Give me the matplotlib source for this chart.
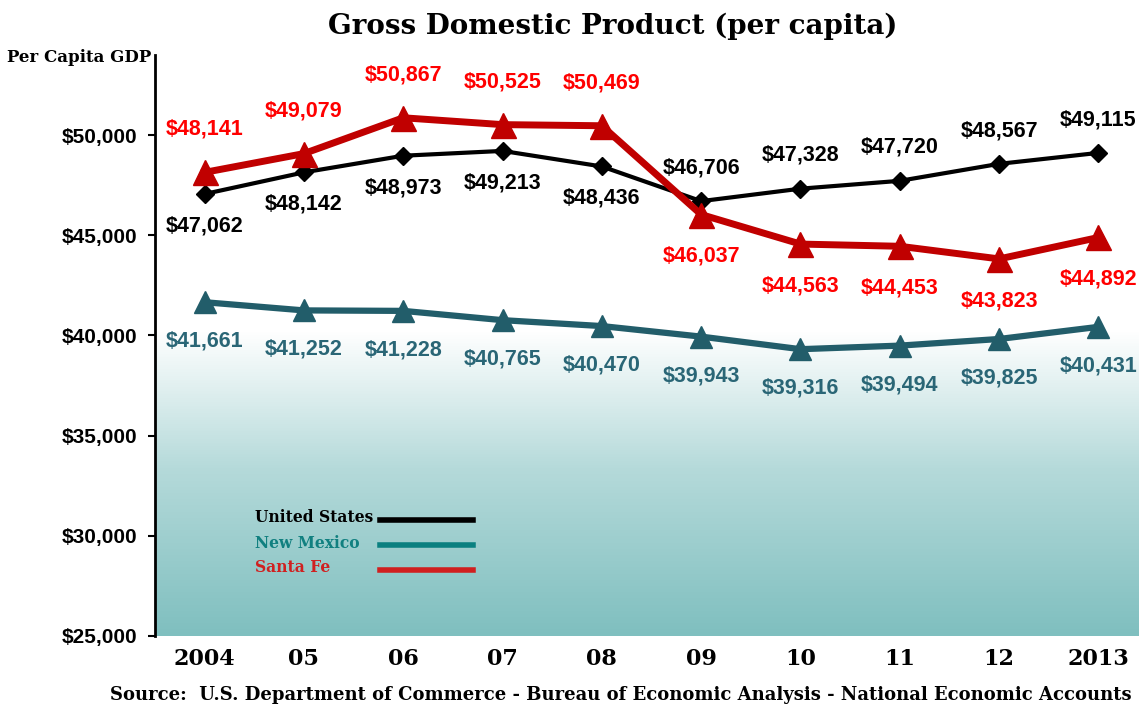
import matplotlib.pyplot as plt
import numpy as np
from matplotlib.colors import LinearSegmentedColormap
from matplotlib.lines import Line2D

years = ["2004", "05", "06", "07", "08", "09", "10", "11", "12", "2013"]
us_gdp = [47062, 48142, 48973, 49213, 48436, 46706, 47328, 47720, 48567, 49115]
nm_gdp = [41661, 41252, 41228, 40765, 40470, 39943, 39316, 39494, 39825, 40431]
sf_gdp = [48141, 49079, 50867, 50525, 50469, 46037, 44563, 44453, 43823, 44892]
y_ticks = [25000, 30000, 35000, 40000, 45000, 50000]

NUM_FONT = ["Liberation Sans Narrow", "Liberation Sans", "DejaVu Sans"]
SERIF = ["DejaVu Serif"]


def money(v):
    return "${:,}".format(v)


def main():
    fig = plt.figure(figsize=(11.39, 7.08), dpi=100)
    ax = fig.add_axes([0.136, 0.1017, 0.872, 0.8206])
    x = np.arange(len(years))

    ax.set_xlim(-0.5, 9.5)
    ax.set_ylim(25000, 54000)

    # background gradient: white above ~40k, teal at the bottom
    grad = np.linspace(0, 1, 256).reshape(-1, 1)
    cmap = LinearSegmentedColormap.from_list(
        "bg", [(0.0, "#7fbfbf"), (0.55, "#b5dada"), (1.0, "#ffffff")]
    )
    ax.imshow(grad, aspect="auto", cmap=cmap, origin="lower",
              extent=(-0.5, 9.5, 25000, 40200), zorder=0)

    ax.plot(x, nm_gdp, color="#225d6a", lw=4.5, marker="^", ms=16,
            markeredgecolor="#225d6a", zorder=3)
    ax.plot(x, us_gdp, color="black", lw=3, marker="D", ms=9, zorder=4)
    ax.plot(x, sf_gdp, color="#c00000", lw=5, marker="^", ms=18,
            markeredgecolor="#c00000", zorder=5)

    for i in x:
        up = i >= 5
        ax.annotate(money(us_gdp[i]), (i, us_gdp[i]),
                    xytext=(0, 24 if up else -23), textcoords="offset points",
                    ha="center", va="center", fontsize=15.5, fontweight="bold",
                    family=NUM_FONT, color="black", zorder=6)
        ax.annotate(money(sf_gdp[i]), (i, sf_gdp[i]),
                    xytext=(0, -30 if up else 31), textcoords="offset points",
                    ha="center", va="center", fontsize=15.5, fontweight="bold",
                    family=NUM_FONT, color="#ff0000", zorder=6)
        ax.annotate(money(nm_gdp[i]), (i, nm_gdp[i]),
                    xytext=(0, -28), textcoords="offset points",
                    ha="center", va="center", fontsize=15.5, fontweight="bold",
                    family=NUM_FONT, color="#2a6676", zorder=6)

    ax.set_xticks(x)
    ax.set_xticklabels(years, family=SERIF, fontsize=16, fontweight="bold")
    ax.tick_params(axis="x", length=0, pad=9)
    ax.set_yticks(y_ticks)
    ax.set_yticklabels([money(v) for v in y_ticks], family=NUM_FONT,
                       fontsize=15, fontweight="bold")
    ax.tick_params(axis="y", direction="out", length=5, width=1.5, pad=8)

    for side in ("top", "right", "bottom"):
        ax.spines[side].set_visible(False)
    ax.spines["left"].set_linewidth(2)

    # legend, drawn by hand
    legend_items = [
        ("United States", "black", "black"),
        ("New Mexico", "#118080", "#0a8080"),
        ("Santa Fe", "#d02020", "#d02020"),
    ]
    for k, (name, tcol, lcol) in enumerate(legend_items):
        yy = 1 - (518 + 25 * k) / 708
        fig.text(255 / 1139, yy, name, color=tcol, fontsize=11.2,
                 fontweight="bold", family=SERIF, va="center", ha="left")
        fig.add_artist(Line2D([380 / 1139, 473 / 1139],
                              [yy - 2 / 708, yy - 2 / 708],
                              color=lcol, lw=4))

    fig.text(0.538, 1 - 26 / 708, "Gross Domestic Product (per capita)",
             ha="center", va="center", fontsize=20, fontweight="bold",
             family=SERIF)
    fig.text(7 / 1139, 1 - 57 / 708, "Per Capita GDP", ha="left",
             va="center", fontsize=12, fontweight="bold", family=SERIF)
    fig.text(0.545, 1 - 695 / 708,
             "Source:  U.S. Department of Commerce - Bureau of Economic "
             "Analysis - National Economic Accounts",
             ha="center", va="center", fontsize=13, fontweight="bold",
             family=SERIF)

    fig.savefig("out.png", dpi=100)


if __name__ == "__main__":
    main()
